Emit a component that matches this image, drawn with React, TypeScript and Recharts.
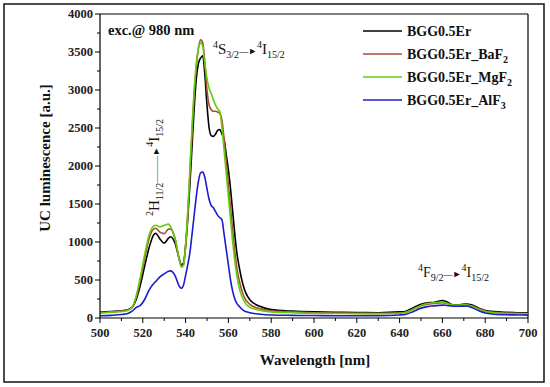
import React from "react";
import { LineChart, Line, XAxis, YAxis, ReferenceLine } from "recharts";

// wavelength grid (nm)
const wavelengths = [
  500, 505, 510, 513, 515, 517, 519, 521, 523, 525, 526, 528, 530, 532, 533, 535, 537, 538, 539, 540,
  541, 542, 543, 544, 545, 546, 547, 548, 549, 550, 551, 552, 553, 554, 555, 556, 557, 558, 559, 560,
  561, 562, 563, 564, 565, 567, 570, 575, 580, 590, 600, 610, 620, 630, 640, 643, 646, 650, 653, 656,
  660, 662, 665, 668, 671, 674, 677, 680, 684, 690, 695, 700,
];

const bgg = [
  75, 85, 95, 110, 140, 250, 450, 700, 930, 1090, 1115, 1040, 985, 1050, 1070, 990, 780, 700, 720, 950,
  1300, 1750, 2250, 2750, 3150, 3350, 3420, 3450, 3200, 2800, 2500, 2400, 2390, 2420, 2470, 2480, 2420, 2350, 2150, 1950,
  1700, 1400, 1100, 850, 680, 420, 240, 150, 110, 90, 80, 75, 72, 70, 80, 90, 130, 180, 200, 205,
  230, 215, 175, 175, 185, 170, 130, 100, 85, 75, 70, 65,
];

const bggBaF2 = [
  70, 80, 90, 105, 140, 280, 520, 800, 1050, 1170, 1180, 1130, 1110, 1170, 1170, 1050, 780, 680, 700, 950,
  1350, 1900, 2450, 2950, 3300, 3550, 3660, 3620, 3350, 3000, 2800, 2740, 2720, 2720, 2710, 2690, 2600, 2350, 2050, 1750,
  1450, 1150, 880, 650, 500, 300, 180, 120, 95, 80, 70, 65, 62, 60, 65, 75, 110, 160, 180, 190,
  200, 190, 165, 165, 170, 155, 120, 90, 75, 65, 60, 55,
];

const bggMgF2 = [
  65, 75, 85, 100, 140, 300, 560, 850, 1100, 1210, 1220, 1200, 1220, 1235, 1200, 1060, 770, 670, 690, 950,
  1400, 1950, 2500, 3000, 3350, 3550, 3620, 3580, 3350, 3150, 3020, 2950, 2870, 2800, 2750, 2720, 2500, 2200, 1900, 1600,
  1300, 1000, 750, 550, 400, 240, 140, 100, 80, 70, 62, 60, 58, 58, 62, 75, 110, 165, 190, 200,
  210, 195, 170, 170, 175, 155, 115, 85, 70, 60, 58, 55,
];

const bggAlF3 = [
  30, 35, 45, 60, 90, 140, 170, 250, 370, 450, 480, 540, 580, 615, 620, 560, 420, 390, 430, 560,
  700, 860, 1100, 1350, 1600, 1800, 1910, 1920, 1850, 1700, 1560, 1480, 1450, 1400, 1350, 1320, 1290, 1100, 900, 700,
  500, 350, 250, 190, 155, 100, 70, 50, 40, 35, 32, 30, 30, 30, 40, 50, 80, 130, 150, 160,
  170, 165, 155, 155, 158, 135, 95, 65, 50, 42, 40, 38,
];

const yTicks = [0, 250, 500, 750, 1000, 1250, 1500, 1750, 2000, 2250, 2500, 2750, 3000, 3250, 3500, 3750, 4000];
const xTicks = [500, 510, 520, 530, 540, 550, 560, 570, 580, 590, 600, 610, 620, 630, 640, 650, 660, 670, 680, 690, 700];

const series = [
  { key: "bgg", name: "BGG0.5Er", sub: "", color: "#000000" },
  { key: "baf2", name: "BGG0.5Er_BaF", sub: "2", color: "#a5502e" },
  { key: "mgf2", name: "BGG0.5Er_MgF", sub: "2", color: "#62cc10" },
  { key: "alf3", name: "BGG0.5Er_AlF", sub: "3", color: "#1c1cc8" },
];

const data = wavelengths.map((w, i) => ({
  w,
  bgg: bgg[i],
  baf2: bggBaF2[i],
  mgf2: bggMgF2[i],
  alf3: bggAlF3[i],
}));

const FONT = "'Liberation Serif', 'Times New Roman', serif";

function YTick(props: any) {
  const { x, y, payload } = props;
  const major = payload.value % 500 === 0;
  return (
    <g>
      <line x1={x} x2={x - (major ? 5 : 3)} y1={y} y2={y} stroke="#000" strokeWidth={1} />
      {major && (
        <text x={x - 7} y={y + 4} textAnchor="end" fontFamily={FONT} fontWeight="bold" fontSize={12.5} fill="#222">
          {payload.value}
        </text>
      )}
    </g>
  );
}

function XTick(props: any) {
  const { x, y, payload } = props;
  const major = payload.value % 20 === 0;
  return (
    <g>
      <line x1={x} x2={x} y1={y} y2={y + (major ? 5 : 3)} stroke="#000" strokeWidth={1} />
      {major && (
        <text x={x} y={y + 19} textAnchor="middle" fontFamily={FONT} fontWeight="bold" fontSize={12.5} fill="#222">
          {payload.value}
        </text>
      )}
    </g>
  );
}

// term symbol like ^4S_{3/2}
function term(sup: string, main: string, sub: string, k: string) {
  return [
    <tspan key={k + "a"} dy={-6} fontSize={10}>{sup}</tspan>,
    <tspan key={k + "b"} dy={6}>{main}</tspan>,
    <tspan key={k + "c"} dy={4} fontSize={10}>{sub}</tspan>,
  ];
}

function Transition({ upper, arrow }: { upper: [string, string, string]; arrow: string }) {
  return (
    <>
      {term(upper[0], upper[1], upper[2], "u")}
      <tspan dy={-4} fontSize={9}>{arrow + "\u25BA"}</tspan>
      {term("4", "I", "15/2", "l")}
    </>
  );
}

export default function App() {
  return (
    <div style={{ position: "absolute", left: 0, top: 0, width: 550, height: 387, background: "#fff" }}>
      <LineChart width={550} height={387} data={data} margin={{ top: 14, right: 22, bottom: 0, left: 0 }}>
        <XAxis
          dataKey="w"
          type="number"
          domain={[500, 700]}
          ticks={xTicks}
          interval={0}
          height={69}
          tickSize={0}
          tickMargin={0}
          tick={<XTick />}
          axisLine={{ stroke: "#000", strokeWidth: 1.2 }}
        />
        <YAxis
          type="number"
          domain={[0, 4000]}
          ticks={yTicks}
          interval={0}
          width={100}
          tickSize={0}
          tickMargin={0}
          tick={<YTick />}
          axisLine={{ stroke: "#000", strokeWidth: 1.2 }}
        />
        <ReferenceLine y={4000} stroke="#000" strokeWidth={1.2} />
        <ReferenceLine x={700} stroke="#000" strokeWidth={1.2} />
        {series.map((s) => (
          <Line
            key={s.key}
            dataKey={s.key}
            type="monotone"
            stroke={s.color}
            strokeWidth={1.6}
            dot={false}
            isAnimationActive={false}
          />
        ))}
      </LineChart>
      <svg
        width={550}
        height={387}
        style={{ position: "absolute", left: 0, top: 0, pointerEvents: "none" }}
        fontFamily={FONT}
      >
        <rect x={4} y={4} width={540} height={378} fill="none" stroke="#222" strokeWidth={1.6} />

        <text x={108} y={35} fontSize={14.5} fontWeight="bold" fill="#111">exc.@ 980 nm</text>

        <text x={213} y={54} fontSize={15} fill="#111">
          <Transition upper={["4", "S", "3/2"]} arrow={"\u2014"} />
        </text>

        <text transform="translate(159,216) rotate(-90)" fontSize={15} fill="#111">
          <Transition upper={["2", "H", "11/2"]} arrow={"\u2014\u2014\u2014"} />
        </text>

        <text x={418} y={277} fontSize={14} fill="#111">
          <Transition upper={["4", "F", "9/2"]} arrow={"\u2014"} />
        </text>

        {series.map((s, i) => (
          <g key={s.key}>
            <line x1={363} x2={402} y1={31 + i * 23} y2={31 + i * 23} stroke={s.color} strokeWidth={1.5} />
            <text x={407} y={36 + i * 23} fontSize={14} fontWeight="bold" fill="#111">
              {s.name}
              {s.sub && <tspan dy={4} fontSize={10}>{s.sub}</tspan>}
            </text>
          </g>
        ))}

        <text x={315} y={365} fontSize={15} fontWeight="bold" textAnchor="middle" fill="#111">
          Wavelength [nm]
        </text>
        <text transform="translate(50,158) rotate(-90)" fontSize={15} fontWeight="bold" textAnchor="middle" fill="#111">
          UC luminescence [a.u.]
        </text>
      </svg>
    </div>
  );
}
